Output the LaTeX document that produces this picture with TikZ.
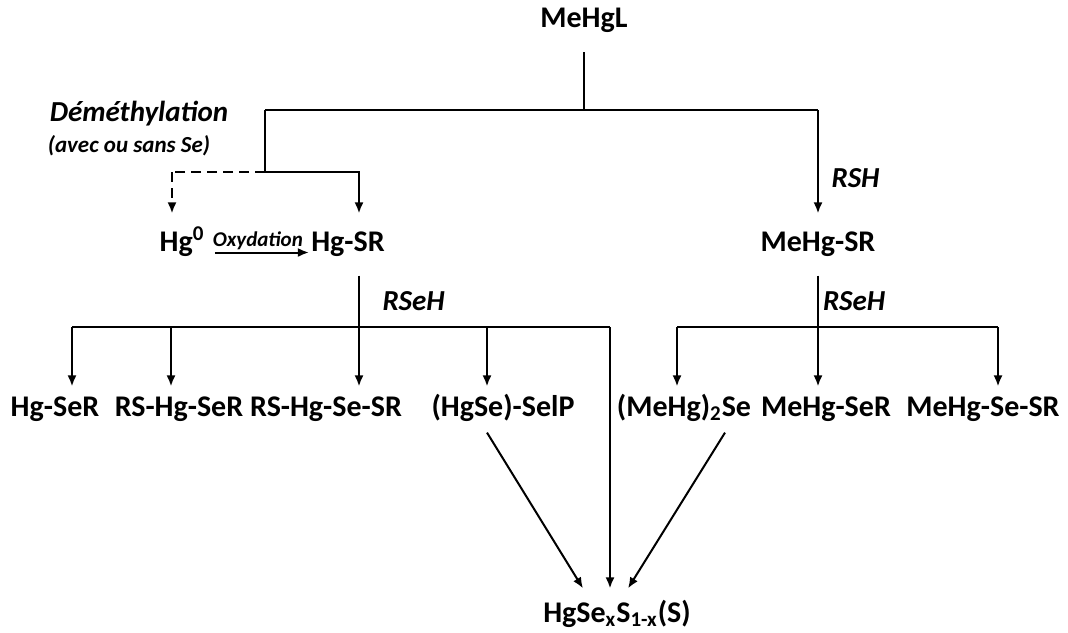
\documentclass[tikz,border=0pt]{standalone}
\usepackage{fontspec}
\setmainfont{Carlito}
\usepackage{tikz}
\usetikzlibrary{arrows.meta,calc,positioning}
\tikzstyle{arrow} = [draw, -{Latex[length=5.5pt,width=4.5pt]}, line width=1pt]
\tikzstyle{link} = [draw, line width=1pt]
\tikzstyle{spec} = [font={\fontsize{15}{18}\selectfont\bfseries}, text height=9.7pt, text depth=3pt, inner xsep=1pt, inner ysep=9pt]
\tikzstyle{prod} = [spec, inner ysep=5pt]
\tikzstyle{note} = [font={\fontsize{14.5}{17}\selectfont\bfseries\itshape}]
\newcommand{\sub}[1]{\textsubscript{#1}}

\begin{document}
\begin{tikzpicture}[x=0.5pt, y=-0.5pt]
      \useasboundingbox (0,0) rectangle (1068,632);

      % sources
      \node[spec] (meHgL)  at (584,21)    {MeHgL};
      \node[spec] (hg0)    at (182,244.5) {Hg\textsuperscript{0}};
      \node[spec] (hgSR)   at (348,244.5) {Hg-SR};
      \node[spec] (meHgSR) at (818,244.5) {MeHg-SR};

      \node[note] (demeth) at (139,114) {Déméthylation};
      \node[font={\fontsize{11.5}{13}\selectfont\bfseries\itshape}] (avec) at (129,146) {(avec ou sans Se)};

      % products
      \node[prod] (hgSeR)     at (55,409.5)  {Hg-SeR};
      \node[prod] (rsHgSeR)   at (179,409.5) {RS-Hg-SeR};
      \node[prod] (rsHgSeSR)  at (326,409.5) {RS-Hg-Se-SR};
      \node[prod] (hgSeSelP)  at (503,409.5) {(HgSe)-SelP};
      \node[prod] (meHg2Se)   at (684,409.5) {(MeHg)\textsubscript{2}Se};
      \node[prod] (meHgSeR)   at (826,409.5) {MeHg-SeR};
      \node[prod] (meHgSeSR)  at (983,409.5) {MeHg-Se-SR};
      \node[spec, inner ysep=7pt] (hgSeS) at (617,615.5) {HgSe\sub{x}S\sub{1-x}(S)};

      % branch points
      \coordinate (fork)  at (584,110);
      \coordinate (forkL) at (265,110);
      \coordinate (forkR) at (818,110);
      \coordinate (dem)   at (265,172);
      \coordinate (demL)  at (172,172);
      \coordinate (demR)  at (359,172);
      \coordinate (hubL)  at (359,327);
      \coordinate (hubR)  at (818,327);
      \coordinate (barL)  at (72,327);
      \coordinate (bar2)  at (171,327);
      \coordinate (bar4)  at (487,327);
      \coordinate (barE)  at (610,327);
      \coordinate (barM)  at (677,327);
      \coordinate (barF)  at (998,327);

      \path (meHgL) edge[link] (fork);
      \path (forkL) edge[link] (forkR);
      \path (forkL) edge[link] (dem);
      \path (dem) edge[link, dash pattern=on 5pt off 3pt] (demL);
      \path (demL) edge[arrow, dash pattern=on 5pt off 3pt] (demL |- hg0.north);
      \draw[arrow] (dem) -- (demR) -- (demR |- hgSR.north);
      \path (forkR) edge[arrow] node[note, right, pos=0.66, xshift=3pt] {RSH} (forkR |- meHgSR.north);
      \path ([yshift=-4pt]hg0.east) edge[arrow, shorten <=4pt]
        node[above, font={\fontsize{10.5}{12}\selectfont\bfseries\itshape}, inner sep=1pt] {Oxydation} ([yshift=-4pt]hgSR.west);

      \path (hubL |- hgSR.south) edge[link] node[note, right, xshift=8pt] {RSeH} (hubL);
      \path (hubR |- meHgSR.south) edge[link] node[note, right, inner sep=2pt] {RSeH} (hubR);
      \path (barL) edge[link] (barE);
      \path (barM) edge[link] (barF);

      \path (barL) edge[arrow] (barL |- hgSeR.north);
      \path (bar2) edge[arrow] (bar2 |- rsHgSeR.north);
      \path (hubL) edge[arrow] (hubL |- rsHgSeSR.north);
      \path (bar4) edge[arrow] (bar4 |- hgSeSelP.north);
      \path (barM) edge[arrow] (barM |- meHg2Se.north);
      \path (hubR) edge[arrow] (hubR |- meHgSeR.north);
      \path (barF) edge[arrow] (barF |- meHgSeSR.north);

      \draw[arrow] (barE) -- (barE |- hgSeS.north);
      \path ($(hgSeSelP.south)+(-16,0)$) edge[arrow] ($(hgSeS.north)+(-34,0)$);
      \path ($(meHg2Se.south)+(41,0)$) edge[arrow] ($(hgSeS.north)+(11,0)$);
    \end{tikzpicture}
\end{document}
